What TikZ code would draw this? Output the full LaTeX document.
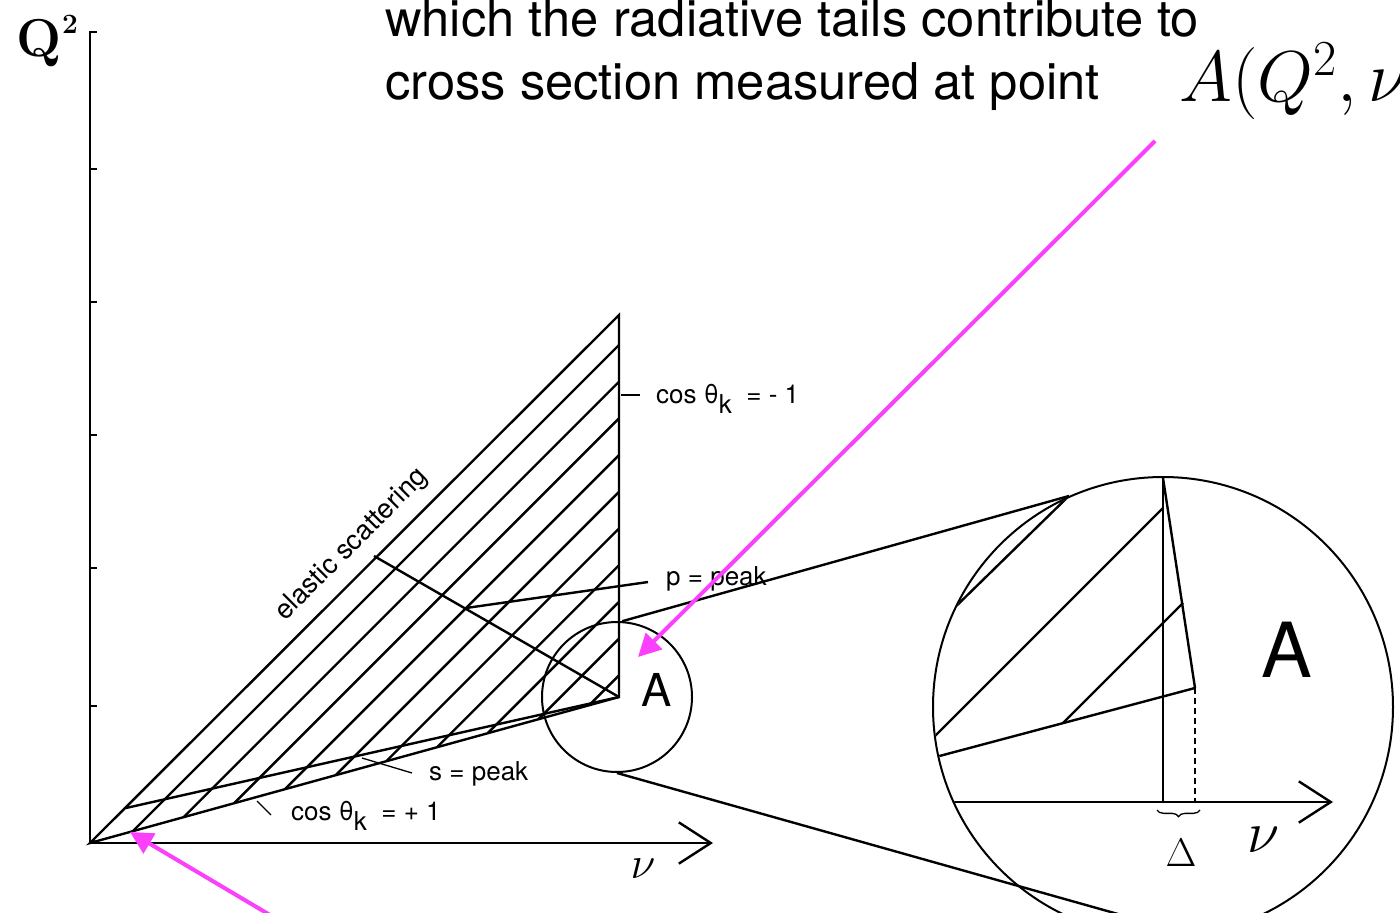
\RequirePackage{fix-cm}
\documentclass[tikz,border=0pt]{standalone}
\usepackage{fontspec}
\setsansfont{TeX Gyre Heros}
\usetikzlibrary{arrows.meta,decorations.pathreplacing}

\definecolor{pinkarrow}{RGB}{250,64,250}

\tikzset{every picture/.style={line width=1.8pt}}
\tikzset{
  lbl/.style={anchor=base west, inner sep=0pt, font=\sffamily\fontsize{19.5}{22}\selectfont},
  pointer/.style={color=pinkarrow, line width=3pt, -{Triangle[length=17pt,width=17pt]}},
  axisarrow/.style={-{Straight Barb[length=24pt,width=31pt]}},
  caption/.style={anchor=base west, inner sep=0pt, font=\sffamily\fontsize{38}{44}\selectfont},
}
\newcommand{\subk}{\raisebox{-0.4em}{k}}

\begin{document}
\begin{tikzpicture}[x=0.75pt,y=0.75pt,yscale=-1,xscale=1]
\useasboundingbox (0,0) rectangle (1400,913);
\clip (0,0) rectangle (1400,913);

%% ---------------- axes ----------------
\coordinate (O) at (90,843);
\coordinate (Ytop) at (90,32);
\coordinate (Xtip) at (713,843);

\draw [axisarrow] (O) -- (Xtip);
\draw (O) -- (Ytop) -- ++(7,0);
\foreach \y in {169,302,435,568,706} \draw (90,\y) -- ++(7,0);

\node [inner sep=0pt, font=\fontsize{40}{44}\selectfont\bfseries] (qlabel) at (39,43) {Q};
\node [inner sep=0pt, font=\fontsize{21}{24}\selectfont\bfseries] (qsup) at (70,24) {2};
\node [font=\fontsize{34}{38}\selectfont] (nulabel) at (643,869) {$\nu$};

%% ---------------- kinematic region ----------------
\coordinate (T) at (619,315);
\coordinate (B) at (619,697);
\coordinate (S0) at (126,808);
\coordinate (E1) at (374,556);
\coordinate (P0) at (466,608);
\coordinate (P1) at (648,582);

\draw (O) -- (T) -- (B) -- cycle;
\draw (S0) -- (B);
\draw (E1) -- (B);
\draw (P0) -- (P1);

% hatching parallel to the elastic line
\foreach \k in {0,...,9} {
  \pgfmathsetmacro{\ye}{345+36.7*\k}
  \pgfmathsetmacro{\xs}{(\ye-248.8)/0.724}
  \draw (\xs,{\ye+619-\xs}) -- (619,\ye);
}

%% ---------------- labels ----------------
\node [lbl, anchor=center, rotate=45, font=\sffamily\fontsize{20.5}{22}\selectfont] (elastic) at (352,545) {elastic scattering};

\node [lbl] (cosminus) at (655,403) {cos θ\subk\ \ = - 1};
\coordinate (cmfoot) at (621,395);
\draw [line width=1pt] (cmfoot) -- ++(19,0);

\node [lbl] (ppeak) at (665,585) {p = peak};

\node [lbl] (speak) at (428,780) {s = peak};
\coordinate (spfoot) at (362,758);
\draw [line width=1pt] (spfoot) -- (412,773);

\node [lbl] (cosplus) at (290,820) {cos θ\subk\ \ = + 1};
\coordinate (cpfoot) at (257,801);
\draw [line width=1pt] (cpfoot) -- (271,815);

%% ---------------- point A and its enlargement ----------------
\node [draw, line width=1.5pt, circle, minimum size=112.5pt, inner sep=0pt] (lensA) at (617,697) {};
\node [font=\sffamily\fontsize{34}{38}\selectfont] (labelA) at (657,690) {A};

\node [draw, line width=1.5pt, circle, minimum size=345pt, inner sep=0pt] (bigA) at (1163,707) {};
\draw (lensA.86) -- (bigA.114.7);
\draw (lensA.south) -- (bigA.278);

\begin{scope}
\clip (1163,707) circle (229);
\coordinate (Vt) at (1163,478);
\coordinate (Vb) at (1163,802);
\coordinate (Dt) at (1195,688);
\coordinate (Db) at (1195,802);
\coordinate (Al) at (920,802);
\coordinate (Ar) at (1333,802);

\draw (Vt) -- (Vb);
\draw (Vt) -- (Dt);
\draw [dash pattern={on 4.5pt off 3pt}] (Dt) -- (Db);
\draw [axisarrow] (Al) -- (Ar);
\draw (Dt) -- (900,766.5);
\draw (1163,508) -- (900,771);
\draw (1063,723) -- (1183,603);
\draw (945,617) -- (1077,488);
\end{scope}

\draw [decorate, decoration={brace, mirror, amplitude=5pt}, line width=1pt] (1157,810) -- (1200,810);
\node [font=\fontsize{30}{34}\selectfont] (delta) at (1181,853) {$\Delta$};
\node [font=\fontsize{44}{48}\selectfont] (nubig) at (1264,840) {$\nu$};
\node [font=\sffamily\fontsize{57}{62}\selectfont] (bigletterA) at (1287,650) {A};

%% ---------------- caption ----------------
\node [caption] (line1) at (384,37) {which the radiative tails contribute to};
\node [caption] (line2) at (384,100) {cross section measured at point};
\node [anchor=base west, inner sep=0pt, font=\fontsize{54}{60}\selectfont] (pointA) at (1178,102) {$A(Q^2,\nu$};

%% ---------------- pointers ----------------
\coordinate (tailA) at (1155,141);
\coordinate (tipA) at (638,657);
\coordinate (tailO) at (275,918);
\coordinate (tipO) at (130,832);
\draw [pointer] (tailA) -- (tipA);
\draw [pointer] (tailO) -- (tipO);

\end{tikzpicture}
\end{document}
